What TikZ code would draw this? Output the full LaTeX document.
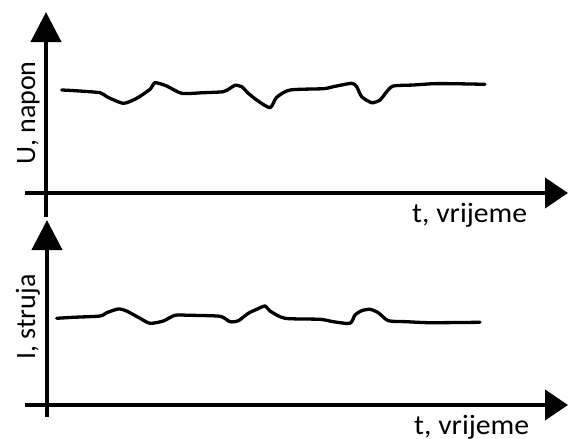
\documentclass[tikz,border=0pt]{standalone}
\usepackage{fontspec}
\setmainfont{Carlito}
\usetikzlibrary{arrows.meta}
\begin{document}
\begin{tikzpicture}[x=1pt,y=-1pt,
  axis/.style={line width=4pt,-{Triangle[length=30pt,width=30pt]}},
  axis2/.style={line width=4pt,-{Triangle[length=23pt,width=30pt]}},
  sig/.style={line width=3.3pt,line join=round,line cap=round},
  lbl/.style={font=\fontsize{28}{30}\selectfont,inner sep=0pt}]
\useasboundingbox (0,0) rectangle (568,439);
% top axes
\coordinate (u0) at (46,217);
\coordinate (u1) at (46,12);
\coordinate (t0) at (25,193);
\coordinate (t1) at (568,193);
\draw[axis] (u0) -- (u1);
\draw[axis2] (t0) -- (t1);
% bottom axes
\coordinate (i0) at (47,417);
\coordinate (i1) at (47,220);
\coordinate (s0) at (25,405);
\coordinate (s1) at (568,405);
\draw[axis] (i0) -- (i1);
\draw[axis2] (s0) -- (s1);
% labels
\node[lbl,anchor=base,rotate=90] (ul) at (35,113) {U, napon};
\node[lbl,anchor=base,rotate=90] (il) at (35,317) {I, struja};
\node[lbl,anchor=base west] (tl1) at (412,222) {\scalebox{1.06}[1]{t, vrijeme}};
\node[lbl,anchor=base west] (tl2) at (414,434) {\scalebox{1.06}[1]{t, vrijeme}};
% voltage signal
\draw[sig] plot[smooth,tension=0.4] coordinates {
 (61.7,90) (75,90.7) (100,92.7) (106.7,96.7) (123.3,103.3) (136.7,98.3)
 (150,89.3) (155,82.7) (166.7,86) (181.7,93.3) (203.3,92.7) (223.3,91.7)
 (230,88.3) (235,85.3) (241.7,86.7) (248.3,93.3) (256.7,100) (270,107.7)
 (276.7,97.3) (290,90) (323.3,88.7) (333.3,86.7) (351.7,83.3) (356.7,86.7)
 (361.7,96.7) (371.7,102.7) (380,100) (386.7,91.7) (393.3,86) (413.3,85)
 (433.3,83.7) (453.3,83.7) (485,84.3)};
% current signal
\draw[sig] plot[smooth,tension=0.4] coordinates {
 (56.7,318.3) (73.3,317.3) (100,316) (106.7,312.7) (118.3,309) (126.7,311)
 (140,318.3) (150,323.3) (163.3,321) (175,315.3) (190,315.3) (220,316.3)
 (230,321.7) (238.3,320.7) (248.3,313.3) (256.7,309.3) (265,306) (270,311)
 (285,318.3) (320,319.3) (333.3,321.7) (350,323.3) (355,315) (361.7,310.7)
 (370,309.3) (378.3,312.7) (388.3,320.7) (406.7,321.7) (430,322.7) (480,322.3)};
\end{tikzpicture}
\end{document}
